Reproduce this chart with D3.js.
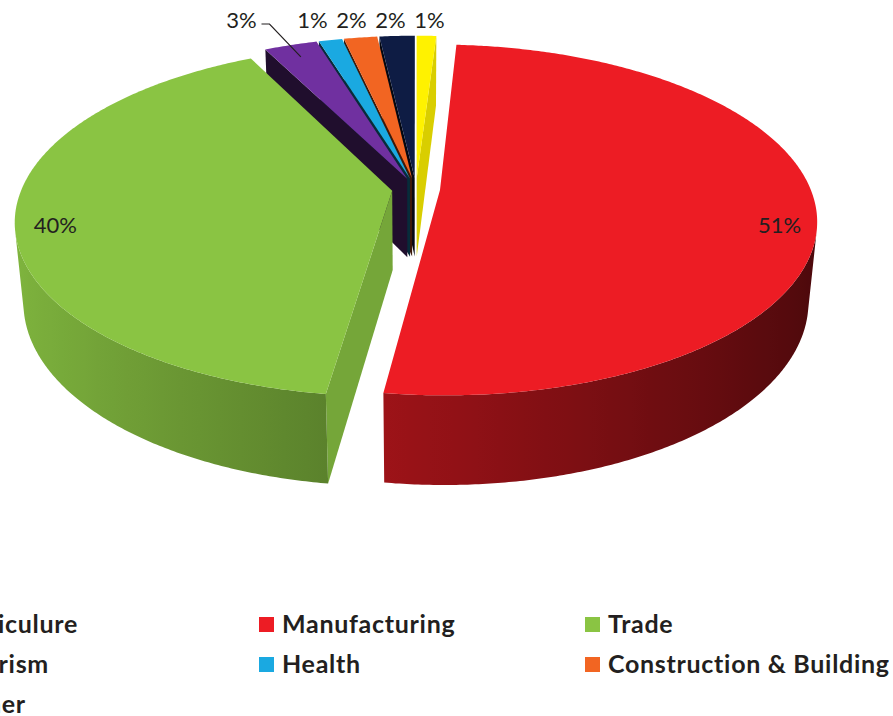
<!DOCTYPE html>
<html>
<head>
<meta charset="utf-8">
<script src="https://cdn.jsdelivr.net/npm/d3@7"></script>
<style>
  body { margin: 0; background: #fff; }
  text { font-family: Lato, "Open Sans", sans-serif; fill: #231f20; }
</style>
</head>
<body>
<script>
// Sectors, clockwise from 12 o'clock (legend reads them in the same order)
var sectors = ["Agriculure", "Manufacturing", "Trade", "Tourism", "Health", "Construction & Building", "Other"];
var shares  = [1.0, 51.2, 40.4, 2.7, 1.2, 1.7, 1.8];
var colors  = ["#fff200", "#ed1c24", "#8ac443", "#7030a0", "#1aa9e1", "#f26522", "#0e1c44"];

var width = 893, height = 716;

var svg = d3.select("body")
  .append("svg")
    .attr("width", width)
    .attr("height", height);
var defs = svg.append("defs");

// 3D view settings (pie radius = 1)
var cx = 416, cy = 189,          // screen position of the pie centre
    F = 1938, D = 5.23,          // focal length and camera distance
    tilt = 27.3 * Math.PI / 180,
    thick = 0.245,               // pie thickness
    explode = 0.065;             // how far every slice is pulled out
var sinT = Math.sin(tilt), cosT = Math.cos(tilt);
var cam = [0, D * sinT, -D * cosT];

// X right, Y up, Z away from viewer
function project(p) {
  var depth = p[2] * cosT - p[1] * sinT + D;
  var yv = p[1] * cosT + p[2] * sinT;
  return [cx + F * p[0] / depth, cy - F * yv / depth];
}
function depthOf(p) { return p[2] * cosT - p[1] * sinT + D; }
function facing(p, n) {
  return (cam[0] - p[0]) * n[0] + (cam[1] - p[1]) * n[1] + (cam[2] - p[2]) * n[2] > 0;
}
function shade(c, f) {
  var r = d3.rgb(c);
  return d3.rgb(r.r * f, r.g * f, r.b * f).formatHex();
}

var color = d3.scaleOrdinal().domain(sectors).range(colors);
var pie = d3.pie().sort(null).value(function(d) { return d; });
var arcs = pie(shares).map(function(a, i) {
  var mid = (a.startAngle + a.endAngle) / 2;
  return {
    name: sectors[i], value: a.value, idx: i,
    s: a.startAngle, e: a.endAngle, mid: mid,
    ox: explode * Math.sin(mid), oz: explode * Math.cos(mid)
  };
});

function rim(d, a, y, r) {
  r = r == null ? 1 : r;
  return [d.ox + r * Math.sin(a), y, d.oz + r * Math.cos(a)];
}

var line = d3.line();
function poly(pts) { return line(pts.map(project)) + "Z"; }

// collect visible walls
var walls = [];
var step = Math.PI / 360;
arcs.forEach(function(d) {
  var c = color(d.name);
  // outer wall: the part of the rim that faces the camera, as one shape
  var n = Math.max(1, Math.ceil((d.e - d.s) / step));
  var vis = [];
  for (var k = 0; k <= n; k++) {
    var a = d.s + (d.e - d.s) * k / n;
    if (facing(rim(d, a, -thick / 2), [Math.sin(a), 0, Math.cos(a)])) vis.push(a);
  }
  if (vis.length > 1) {
    var top = vis.map(function(a) { return rim(d, a, 0); });
    var bot = vis.map(function(a) { return rim(d, a, -thick); }).reverse();
    var xs = vis.map(function(a) { return project(rim(d, a, 0))[0]; });
    var x0 = d3.min(xs), x1 = d3.max(xs);
    var gid = "wall" + d.idx;
    var grad = defs.append("linearGradient")
      .attr("id", gid)
      .attr("gradientUnits", "userSpaceOnUse")
      .attr("x1", x0).attr("x2", x1).attr("y1", 0).attr("y2", 0);
    var stops = vis.map(function(a, j) {
      return { off: (xs[j] - x0) / (x1 - x0 || 1), col: shade(c, 0.62 + 0.31 * (-Math.sin(a))) };
    }).sort(function(p, q) { return p.off - q.off; });
    grad.selectAll("stop")
      .data(stops.filter(function(s, j) { return j % 6 === 0 || j === stops.length - 1; }))
      .enter()
      .append("stop")
        .attr("offset", function(s) { return s.off; })
        .attr("stop-color", function(s) { return s.col; });
    walls.push({ pts: top.concat(bot), fill: "url(#" + gid + ")",
                 depth: depthOf(rim(d, vis[Math.floor(vis.length / 2)], -thick / 2)) });
  }
  // radial walls
  [[d.s, d.s - Math.PI / 2], [d.e, d.e + Math.PI / 2]].forEach(function(w) {
    var a = w[0], na = w[1];
    var nrm = [Math.sin(na), 0, Math.cos(na)];
    var pm = rim(d, a, -thick / 2, 0.5);
    if (!facing(pm, nrm)) return;
    walls.push({
      pts: [rim(d, a, 0, 0), rim(d, a, 0), rim(d, a, -thick), rim(d, a, -thick, 0)],
      fill: shade(c, 0.55 + 0.3 * Math.sin(na)), depth: depthOf(pm)
    });
  });
});
walls.sort(function(a, b) { return b.depth - a.depth; });

svg.append("g")
  .selectAll("path")
  .data(walls)
  .enter()
  .append("path")
    .attr("d", function(w) { return poly(w.pts); })
    .attr("fill", function(w) { return w.fill; });

// top faces
svg.append("g")
  .selectAll("path")
  .data(arcs)
  .enter()
  .append("path")
    .attr("d", function(d) {
      var pts = [rim(d, 0, 0, 0)];
      var n = Math.max(2, Math.ceil((d.e - d.s) / step));
      for (var k = 0; k <= n; k++) pts.push(rim(d, d.s + (d.e - d.s) * k / n, 0));
      return poly(pts);
    })
    .attr("fill", function(d) { return color(d.name); });

// data labels
var fmt = function(v) { return Math.round(v) + "%"; };
var topRow = 28, minGap = 39;
var labelNudge = { "Tourism": -32 };

// big slices: label inside the top face
arcs.filter(function(d) { return d.value > 10; }).forEach(function(d) {
  var p = project([d.ox + 0.92 * Math.sin(d.mid), 0, d.oz]);
  svg.append("text")
    .attr("x", p[0]).attr("y", p[1] + 35)
    .attr("dy", "0.35em")
    .attr("text-anchor", "middle")
    .style("font-size", "22px")
    .text(fmt(d.value));
});

// small slices: one row above the pie, pushed apart from right to left
var small = arcs.filter(function(d) { return d.value <= 10; })
  .map(function(d) { return { d: d, x: project(rim(d, d.mid, 0, 1.0))[0] + 3 }; })
  .sort(function(a, b) { return b.x - a.x; });
small.forEach(function(l, j) {
  if (j > 0) l.x = Math.min(l.x, small[j - 1].x - minGap);
});
small.forEach(function(l) {
  var nudge = labelNudge[l.d.name] || 0;
  var lx = l.x + nudge;
  svg.append("text")
    .attr("x", lx).attr("y", topRow)
    .attr("text-anchor", "middle")
    .style("font-size", "22px")
    .text(fmt(l.d.value));
  if (nudge) {
    var tip = project(rim(l.d, l.d.mid, 0, 0.9));
    svg.append("path")
      .attr("d", line([[lx + 20, topRow - 4], [lx + 28, topRow - 4], tip]))
      .attr("fill", "none")
      .attr("stroke", "#231f20")
      .attr("stroke-width", 1.2);
  }
});

// legend, 3 columns
var colX = [-67, 259, 585], rowY = [617, 657, 697];
var legend = svg.append("g")
  .selectAll("g")
  .data(sectors)
  .enter()
  .append("g")
    .attr("transform", function(d, i) {
      return "translate(" + colX[i % 3] + "," + rowY[Math.floor(i / 3)] + ")";
    });
legend.append("rect")
  .attr("width", 15).attr("height", 15)
  .attr("fill", function(d) { return color(d); });
legend.append("text")
  .attr("x", 23).attr("y", 16)
  .style("font-size", "25px")
  .style("font-weight", "bold")
  .style("letter-spacing", "0.7px")
  .text(function(d) { return d; });
</script>
</body>
</html>
